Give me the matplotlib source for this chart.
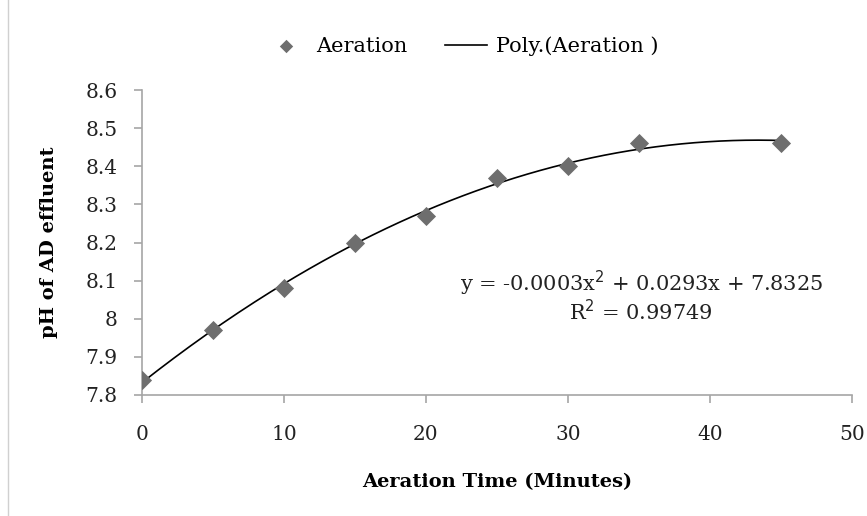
import matplotlib
matplotlib.use("Agg")
import matplotlib.pyplot as plt
import numpy as np

time_min = [0, 5, 10, 15, 20, 25, 30, 35, 45]
ph_values = [7.84, 7.97, 8.08, 8.20, 8.27, 8.37, 8.40, 8.46, 8.46]
x_ticks = [0, 10, 20, 30, 40, 50]
y_ticks = [7.8, 7.9, 8.0, 8.1, 8.2, 8.3, 8.4, 8.5, 8.6]
y_ticklabels = ["7.8", "7.9", "8", "8.1", "8.2", "8.3", "8.4", "8.5", "8.6"]

serif = ["DejaVu Serif", "Liberation Serif"]
plt.rcParams['font.family'] = serif

fig = plt.figure(figsize=(8.67, 5.16), dpi=100)
ax = fig.add_axes([142/867, 1-395/516, (852-142)/867, (395-90)/516])

coef = np.polyfit(time_min, ph_values, 2)
xs = np.linspace(0, 45, 200)
ax.plot(xs, np.polyval(coef, xs), color="black", lw=1.2, label="Poly.(Aeration )", zorder=2)
ax.scatter(time_min, ph_values, marker="D", s=95, color="#6e6e6e", label="Aeration", zorder=3, linewidths=0)

ax.set_xlim(0, 50)
ax.set_ylim(7.8, 8.6)
ax.set_xticks(x_ticks)
ax.set_yticks(y_ticks)
ax.set_yticklabels(y_ticklabels)
for s in ["top", "right"]:
    ax.spines[s].set_visible(False)
for s in ["left", "bottom"]:
    ax.spines[s].set_color("#a6a6a6")
    ax.spines[s].set_linewidth(1.2)
ax.tick_params(axis="both", colors="#a6a6a6", length=6, width=1.2, labelsize=14.5, labelcolor="#222222")
ax.tick_params(axis="x", pad=15.5)
ax.tick_params(axis="y", pad=11.5)

ax.set_xlabel("Aeration Time (Minutes)", fontsize=14, fontweight="bold", labelpad=21)
ax.set_ylabel("pH of AD effluent", fontsize=14, fontweight="bold", labelpad=20)

ax.text(0.703, 0.322, "y = -0.0003x$^2$ + 0.0293x + 7.8325\nR$^2$ = 0.99749", transform=ax.transAxes,
        ha="center", va="center", fontsize=15, linespacing=1.05, color="#222222")

handles, labels = ax.get_legend_handles_labels()
leg = fig.legend([handles[1], handles[0]], [labels[1], labels[0]], loc="center",
                 bbox_to_anchor=(462/867, 1-46/516), ncol=2, frameon=False,
                 prop={"family": "DejaVu Serif", "size": 15},
                 handlelength=2.0, columnspacing=1.8, handletextpad=0.45, markerscale=0.7)

fig.add_artist(plt.Line2D([8/867, 8/867], [0, 1], color="#d0d0d0", lw=1))

fig.savefig("out.png", dpi=100)
